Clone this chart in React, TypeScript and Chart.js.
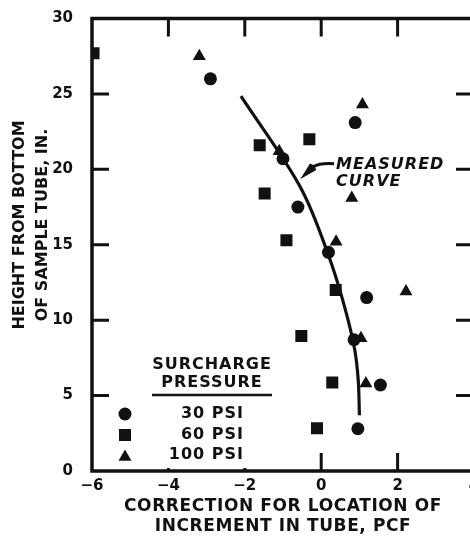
import { useEffect, useRef } from 'react';
import { Chart, registerables } from 'chart.js';

Chart.register(...registerables);

// ---- data ----
const X_TICKS = [-6, -4, -2, 0, 2, 4];
const Y_TICKS = [0, 5, 10, 15, 20, 25, 30];
const SERIES_LABELS = ['30 PSI', '60 PSI', '100 PSI'];
const LEGEND_TITLE = ['SURCHARGE', 'PRESSURE'];
const X_TITLE = ['CORRECTION FOR LOCATION OF', 'INCREMENT IN TUBE, PCF'];
const Y_TITLE = ['HEIGHT FROM BOTTOM', 'OF SAMPLE TUBE, IN.'];
const CURVE_LABEL = ['MEASURED', 'CURVE'];

const psi30 = [
  { x: -2.9, y: 26.0 }, { x: -1.0, y: 20.7 }, { x: -0.61, y: 17.5 },
  { x: 0.89, y: 23.1 }, { x: 0.19, y: 14.5 }, { x: 1.19, y: 11.5 },
  { x: 0.86, y: 8.7 }, { x: 1.55, y: 5.7 }, { x: 0.96, y: 2.8 },
];
const psi60 = [
  { x: -5.96, y: 27.7 }, { x: -1.61, y: 21.6 }, { x: -1.48, y: 18.4 },
  { x: -0.91, y: 15.3 }, { x: -0.31, y: 22.0 }, { x: 0.38, y: 12.0 },
  { x: -0.52, y: 8.95 }, { x: 0.29, y: 5.86 }, { x: -0.11, y: 2.83 },
];
const psi100 = [
  { x: -3.19, y: 27.5 }, { x: -1.1, y: 21.2 }, { x: 1.08, y: 24.3 },
  { x: 0.8, y: 18.1 }, { x: 0.39, y: 15.2 }, { x: 2.22, y: 11.9 },
  { x: 1.04, y: 8.8 }, { x: 1.17, y: 5.8 },
];
// measured curve, read bottom to top
const measuredCurve = [
  { x: 1.0, y: 3.7 }, { x: 0.97, y: 6.0 }, { x: 0.88, y: 8.0 },
  { x: 0.6, y: 11.0 }, { x: 0.17, y: 14.45 }, { x: -0.52, y: 18.7 },
  { x: -2.1, y: 24.85 },
];

// annotation anchors in data units
const CURVE_LABEL_AT = { x: 0.39, y: 20.3 };
const ARROW_TIP_AT = { x: -0.55, y: 19.35 };

const INK = '#111111';
const FONT = "'DejaVu Sans', sans-serif";

const POINT_STYLES = ['circle', 'rect', 'triangle'];
const POINT_RADII = [6.5, 8.5, 7.5];

function drawMarker(ctx: CanvasRenderingContext2D, style: string, x: number, y: number, r: number) {
  ctx.beginPath();
  if (style === 'circle') {
    ctx.arc(x, y, r, 0, Math.PI * 2);
  } else if (style === 'rect') {
    const s = r * Math.SQRT1_2;
    ctx.rect(x - s, y - s, 2 * s, 2 * s);
  } else {
    let a = 0;
    ctx.moveTo(x + Math.sin(a) * r, y - Math.cos(a) * r);
    a += (2 * Math.PI) / 3;
    ctx.lineTo(x + Math.sin(a) * r, y - Math.cos(a) * r);
    a += (2 * Math.PI) / 3;
    ctx.lineTo(x + Math.sin(a) * r, y - Math.cos(a) * r);
    ctx.closePath();
  }
  ctx.fill();
}

const decorPlugin = {
  id: 'decor',
  afterDraw(chart: any) {
    const { ctx, chartArea } = chart;
    const xs = chart.scales.x;
    const ys = chart.scales.y;
    const { left, right, top, bottom } = chartArea;
    ctx.save();
    ctx.strokeStyle = INK;
    ctx.fillStyle = INK;
    ctx.lineCap = 'butt';

    // frame
    ctx.lineWidth = 3.5;
    ctx.strokeRect(left, top, right - left, bottom - top);

    // inward ticks
    ctx.lineWidth = 3;
    ctx.beginPath();
    X_TICKS.filter((v) => v > -6 && v < 4).forEach((v) => {
      const px = xs.getPixelForValue(v);
      ctx.moveTo(px, top);
      ctx.lineTo(px, top + 18);
      const len = v >= 0 ? 18 : 3;
      ctx.moveTo(px, bottom);
      ctx.lineTo(px, bottom - len);
    });
    Y_TICKS.filter((v) => v > 0 && v < 30).forEach((v) => {
      const py = ys.getPixelForValue(v);
      ctx.moveTo(left, py);
      ctx.lineTo(left + 17, py);
      ctx.moveTo(right, py);
      ctx.lineTo(right - 18, py);
    });
    ctx.stroke();

    // axis titles
    ctx.textBaseline = 'middle';
    ctx.textAlign = 'center';
    ctx.font = `bold 17px ${FONT}`;
    (ctx as any).letterSpacing = '0.6px';
    const cx = (left + right) / 2;
    ctx.fillText(X_TITLE[0], cx, 507);
    ctx.fillText(X_TITLE[1], cx, 527);

    ctx.font = `bold 16px ${FONT}`;
    (ctx as any).letterSpacing = '0px';
    ctx.save();
    ctx.translate(0, 225);
    ctx.rotate(-Math.PI / 2);
    ctx.fillText(Y_TITLE[0], 0, 20);
    ctx.fillText(Y_TITLE[1], 0, 43);
    ctx.restore();

    // legend
    const lx = left + 120;
    ctx.font = `bold 16px ${FONT}`;
    (ctx as any).letterSpacing = '1px';
    ctx.fillText(LEGEND_TITLE[0], lx, 365);
    ctx.fillText(LEGEND_TITLE[1], lx, 383);
    ctx.lineWidth = 2.5;
    ctx.beginPath();
    ctx.moveTo(lx - 60, 395);
    ctx.lineTo(lx + 60, 395);
    ctx.stroke();
    const rows = [414, 435, 455];
    ctx.textAlign = 'right';
    SERIES_LABELS.forEach((lab, i) => {
      drawMarker(ctx, POINT_STYLES[i], left + 33, rows[i] + (i === 2 ? 2 : 0), POINT_RADII[i]);
      ctx.fillText(lab, left + 152, rows[i]);
    });

    // curve annotation
    const tx = xs.getPixelForValue(CURVE_LABEL_AT.x);
    const ty = ys.getPixelForValue(CURVE_LABEL_AT.y);
    ctx.font = `italic bold 16px ${FONT}`;
    (ctx as any).letterSpacing = '1px';
    ctx.textAlign = 'left';
    ctx.fillText(CURVE_LABEL[0], tx, ty);
    ctx.fillText(CURVE_LABEL[1], tx, ty + 17);

    const ax = xs.getPixelForValue(ARROW_TIP_AT.x);
    const ay = ys.getPixelForValue(ARROW_TIP_AT.y);
    ctx.lineWidth = 3;
    ctx.beginPath();
    ctx.moveTo(tx - 2, ty - 1);
    ctx.quadraticCurveTo(tx - 16, ty - 2, tx - 23, ty + 2);
    ctx.stroke();
    // arrowhead
    const bx = tx - 23;
    const by = ty + 2;
    const ang = Math.atan2(ay - by, ax - bx);
    ctx.beginPath();
    ctx.moveTo(ax, ay);
    ctx.lineTo(bx + Math.cos(ang + Math.PI / 2) * 4.5, by + Math.sin(ang + Math.PI / 2) * 4.5);
    ctx.lineTo(bx - Math.cos(ang) * 2, by - Math.sin(ang) * 2);
    ctx.lineTo(bx + Math.cos(ang - Math.PI / 2) * 4.5, by + Math.sin(ang - Math.PI / 2) * 4.5);
    ctx.closePath();
    ctx.fill();

    ctx.restore();
  },
};

export default function App() {
  const ref = useRef<HTMLCanvasElement | null>(null);

  useEffect(() => {
    if (!ref.current) return;
    const pointDs = (data: any[], i: number) => ({
      label: SERIES_LABELS[i],
      data,
      pointStyle: POINT_STYLES[i],
      pointRadius: POINT_RADII[i],
      pointHoverRadius: POINT_RADII[i],
      backgroundColor: INK,
      borderColor: INK,
      borderWidth: 0,
      showLine: false,
    });
    const chart = new Chart(ref.current, {
      type: 'scatter',
      data: {
        datasets: [
          {
            label: 'Measured curve',
            data: measuredCurve,
            indexAxis: 'y',
            showLine: true,
            borderColor: INK,
            borderWidth: 3.2,
            pointRadius: 0,
            cubicInterpolationMode: 'monotone',
            fill: false,
          } as any,
          pointDs(psi30, 0),
          pointDs(psi60, 1),
          pointDs(psi100, 2),
        ],
      },
      options: {
        responsive: false,
        animation: false,
        events: [],
        layout: { padding: { top: 15, right: 10, left: 0, bottom: 0 } },
        plugins: {
          legend: { display: false },
          tooltip: { enabled: false },
          title: { display: false },
        },
        scales: {
          x: {
            type: 'linear',
            min: -6,
            max: 4,
            afterFit: (s: any) => { s.height = 69; },
            afterBuildTicks: (s: any) => { s.ticks = X_TICKS.map((v) => ({ value: v })); },
            grid: { display: false },
            border: { display: false },
            ticks: {
              color: INK,
              padding: 0,
              font: { family: FONT, size: 15, weight: 'bold', lineHeight: 1 },
              callback: (v: any) => (Number(v) < 0 ? '\u2212' + Math.abs(Number(v)) : String(v)),
            },
          },
          y: {
            type: 'linear',
            min: 0,
            max: 30,
            afterFit: (s: any) => { s.width = 92; },
            afterBuildTicks: (s: any) => { s.ticks = Y_TICKS.map((v) => ({ value: v })); },
            grid: { display: false },
            border: { display: false },
            ticks: {
              color: INK,
              padding: 11,
              font: { family: FONT, size: 15, weight: 'bold', lineHeight: 1 },
            },
          },
        },
      },
      plugins: [decorPlugin],
    });
    return () => chart.destroy();
  }, []);

  return (
    <div style={{ position: 'fixed', left: 0, top: 0, width: 470, height: 540, overflow: 'hidden', background: '#fff' }}>
      <canvas ref={ref} width={484} height={540} style={{ display: 'block' }} />
    </div>
  );
}
